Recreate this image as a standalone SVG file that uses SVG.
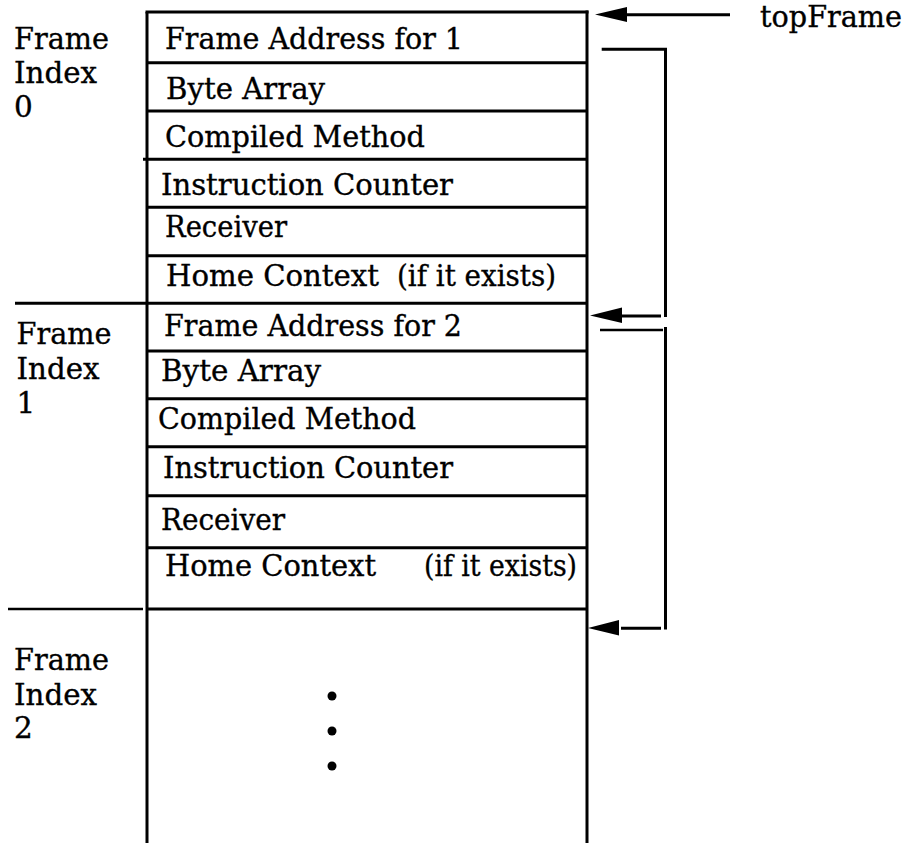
<svg xmlns="http://www.w3.org/2000/svg" width="907" height="843" viewBox="0 0 907 843">
<style>
  text { font-family: "DejaVu Serif", "Liberation Serif", serif; font-size: 29.5px; fill: #000; stroke: #000; stroke-width: 0.35; }
  .ln { stroke: #000; stroke-width: 3; fill: none; }
  .thin { stroke: #000; stroke-width: 2.5; fill: none; }
  .ah { fill: #000; stroke: none; }
</style>
<rect x="0" y="0" width="907" height="843" fill="#fff"/>

<!-- stack outline -->
<g id="stack">
  <line class="ln" x1="147" y1="12" x2="147" y2="843"/>
  <line class="ln" x1="587" y1="10.5" x2="587" y2="843"/>
  <line class="ln" x1="145.5" y1="12" x2="588.5" y2="12"/>
</g>

<!-- Frame index 0 -->
<g id="frame0-label">
  <text x="14" y="49" textLength="95" lengthAdjust="spacingAndGlyphs">Frame</text>
  <text x="14" y="83" textLength="83" lengthAdjust="spacingAndGlyphs">Index</text>
  <text x="14" y="117">0</text>
</g>
<g id="f0-address">
  <line class="ln" x1="147" y1="62.7" x2="587" y2="62.7"/>
  <text x="165" y="49" textLength="298" lengthAdjust="spacingAndGlyphs">Frame Address for 1</text>
</g>
<g id="f0-bytearray">
  <line class="ln" x1="147" y1="111" x2="587" y2="111"/>
  <text x="166" y="99" textLength="159" lengthAdjust="spacingAndGlyphs">Byte Array</text>
</g>
<g id="f0-method">
  <line class="ln" x1="143" y1="159.3" x2="587" y2="159.3"/>
  <text x="165" y="147" textLength="260" lengthAdjust="spacingAndGlyphs">Compiled Method</text>
</g>
<g id="f0-counter">
  <line class="ln" x1="147" y1="207.3" x2="587" y2="207.3"/>
  <text x="161" y="195" textLength="292" lengthAdjust="spacingAndGlyphs">Instruction Counter</text>
</g>
<g id="f0-receiver">
  <line class="ln" x1="147" y1="255.7" x2="587" y2="255.7"/>
  <text x="165" y="237" textLength="122" lengthAdjust="spacingAndGlyphs">Receiver</text>
</g>
<g id="f0-home">
  <line class="ln" x1="15" y1="303.3" x2="587" y2="303.3"/>
  <text x="166" y="286"><tspan textLength="213" lengthAdjust="spacingAndGlyphs">Home Context</tspan><tspan x="397" textLength="159" lengthAdjust="spacingAndGlyphs">(if it exists)</tspan></text>
</g>

<!-- Frame index 1 -->
<g id="frame1-label">
  <text x="16.5" y="344" textLength="95" lengthAdjust="spacingAndGlyphs">Frame</text>
  <text x="16.5" y="379" textLength="83" lengthAdjust="spacingAndGlyphs">Index</text>
  <text x="16.5" y="413">1</text>
</g>
<g id="f1-address">
  <line class="ln" x1="147" y1="351" x2="587" y2="351"/>
  <text x="164" y="336" textLength="298" lengthAdjust="spacingAndGlyphs">Frame Address for 2</text>
</g>
<g id="f1-bytearray">
  <line class="ln" x1="147" y1="398.7" x2="587" y2="398.7"/>
  <text x="161" y="381" textLength="160" lengthAdjust="spacingAndGlyphs">Byte Array</text>
</g>
<g id="f1-method">
  <line class="ln" x1="147" y1="446.7" x2="587" y2="446.7"/>
  <text x="158" y="429" textLength="258" lengthAdjust="spacingAndGlyphs">Compiled Method</text>
</g>
<g id="f1-counter">
  <line class="ln" x1="147" y1="495.7" x2="587" y2="495.7"/>
  <text x="163" y="478" textLength="290" lengthAdjust="spacingAndGlyphs">Instruction Counter</text>
</g>
<g id="f1-receiver">
  <line class="ln" x1="147" y1="547.7" x2="587" y2="547.7"/>
  <text x="161" y="530" textLength="124" lengthAdjust="spacingAndGlyphs">Receiver</text>
</g>
<g id="f1-home">
  <line class="ln" x1="147" y1="609" x2="587" y2="609"/>
  <line class="thin" x1="8" y1="609" x2="143" y2="609"/>
  <text x="165" y="576"><tspan textLength="211" lengthAdjust="spacingAndGlyphs">Home Context</tspan><tspan x="424" textLength="153" lengthAdjust="spacingAndGlyphs">(if it exists)</tspan></text>
</g>

<!-- Frame index 2 -->
<g id="frame2-label">
  <text x="14" y="670" textLength="95" lengthAdjust="spacingAndGlyphs">Frame</text>
  <text x="14" y="705" textLength="83" lengthAdjust="spacingAndGlyphs">Index</text>
  <text x="14" y="738">2</text>
</g>
<g id="f2-ellipsis">
  <circle cx="332" cy="696" r="4.5"/>
  <circle cx="332" cy="731" r="4.5"/>
  <circle cx="332" cy="766" r="4.5"/>
</g>

<g id="topFrame-label">
  <text x="760" y="27" textLength="142" lengthAdjust="spacingAndGlyphs">topFrame</text>
</g>

<!-- connectors -->
<g id="connectors">
  <line class="ln" x1="626" y1="14.7" x2="730" y2="14.7"/>
  <polygon class="ah" points="595,14.5 627,7 627,22"/>

  <path class="ln" d="M601.7,49.3 H665.5 V317"/>
  <line class="ln" x1="621" y1="316" x2="661" y2="316"/>
  <polygon class="ah" points="590,315.5 622,307.5 622,323"/>

  <path class="thin" d="M600,330 H663"/>
  <line class="ln" x1="665.5" y1="327" x2="665.5" y2="629.5"/>
  <line class="ln" x1="621" y1="628.3" x2="661" y2="628.3"/>
  <polygon class="ah" points="588,628 619,620 619,635.5"/>
</g>
</svg>
